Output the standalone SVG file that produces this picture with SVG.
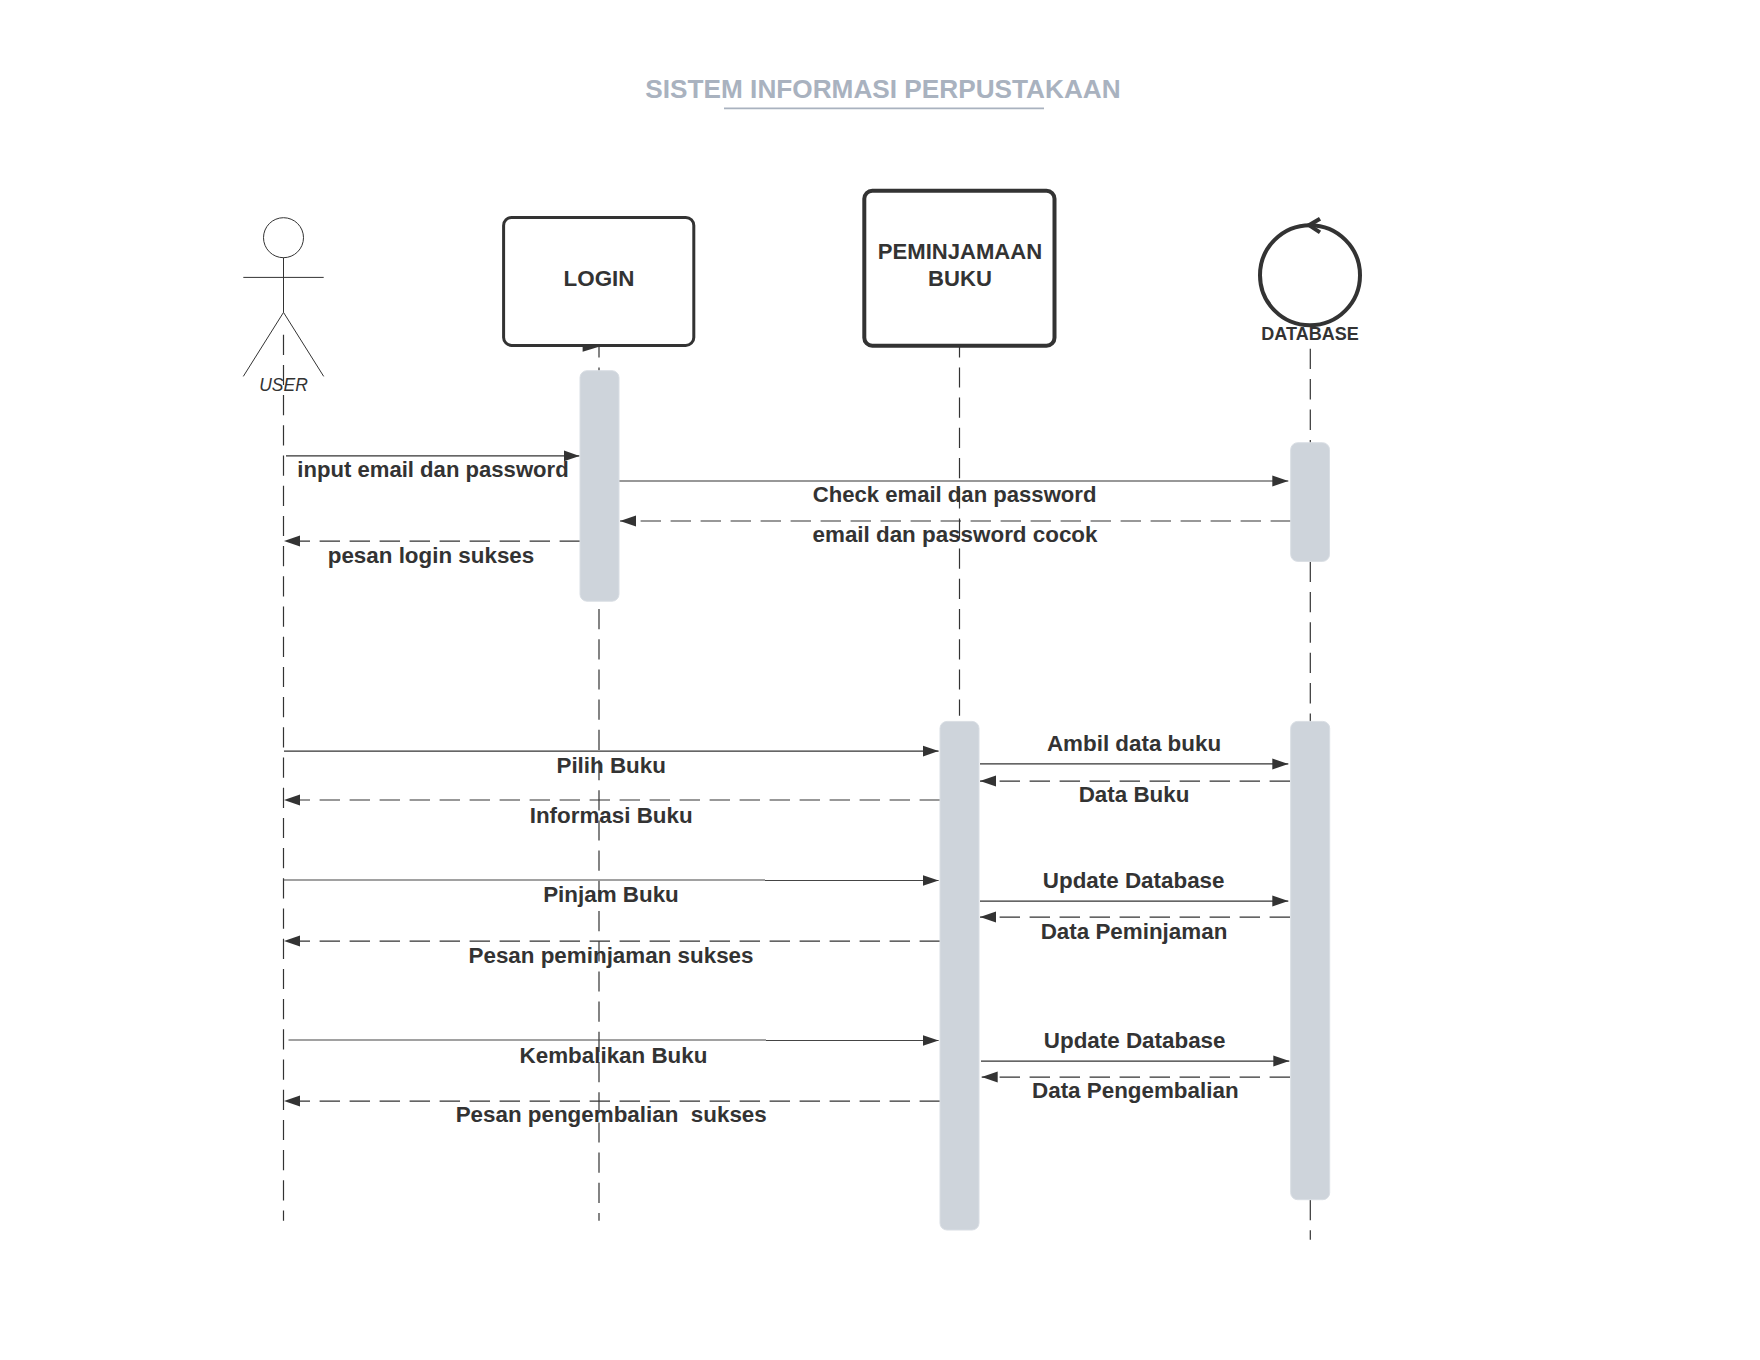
<svg xmlns="http://www.w3.org/2000/svg" width="1760" height="1360" viewBox="0 0 1760 1360">
<defs>
<marker id="arr" markerUnits="userSpaceOnUse" markerWidth="18" markerHeight="14" refX="16" refY="6.5" orient="auto"><path d="M0 1L16 6.5L0 12Z" fill="#333"/></marker>
</defs>
<style>
text{font-family:"Liberation Sans",Arial,sans-serif;fill:#333;white-space:pre}
.lbl{font-size:22.4px;font-weight:700;text-anchor:middle}
.nar{font-size:22.1px}
.life{fill:none;stroke:#333;stroke-width:1.2;stroke-dasharray:20.2 10}
.msg{fill:none;stroke:#333;stroke-width:1.2;marker-end:url(#arr)}
.ret{fill:none;stroke:#333;stroke-width:1.2;stroke-dasharray:20.4 9.6;marker-end:url(#arr)}
.act{fill:#ced4db;stroke:#d9dee4;stroke-width:1}
.box{fill:#fff;stroke:#333}
.stick{fill:none;stroke:#333;stroke-width:1}
</style>
<rect width="1760" height="1360" fill="#fff"/>
<g id="title" transform="translate(0 .7)">
<text x="883" y="97" font-size="26.2" font-weight="700" text-anchor="middle" style="fill:#a9b2bf">SISTEM INFORMASI PERPUSTAKAAN</text>
<line x1="724" y1="107.7" x2="1044" y2="107.7" stroke="#a9b2bf" stroke-width="1.6"/>
</g>
<g id="connectors" transform="translate(0 .7)">
<path class="life" d="M283.5 334V1220"/>
<path class="life" d="M599 346V1220" stroke-dashoffset="9.5"/>
<path d="M582.6 341L599 346L582.6 351Z" fill="#333"/>
<path class="life" d="M959.5 346V715" stroke-dashoffset="9.5"/>
<path class="life" d="M1310.3 348V1239" style="stroke-dasharray:20.4 10"/>

<path class="msg" d="M286 455.2H579.5"/>
<text class="lbl nar" x="433" y="476.5">input email dan password</text>
<path class="msg" d="M619 480.3H1288.3"/>
<text class="lbl nar" x="954.6" y="501.7">Check email dan password</text>
<path class="ret" d="M1291 520.3H620"/>
<text class="lbl" x="955" y="541.7">email dan password cocok</text>
<path class="ret" d="M580 540.4H284"/>
<text class="lbl" x="431" y="562">pesan login sukses</text>

<path class="msg" d="M284 750.4H938.6"/>
<text class="lbl" x="611.2" y="772.5">Pilih Buku</text>
<path class="ret" d="M940 799.3H284"/>
<text class="lbl" x="611.2" y="822">Informasi Buku</text>
<path class="msg" d="M283.5 879.3H765M765 879.8H938.6" style="stroke:#444"/>
<text class="lbl" x="611" y="901.8">Pinjam Buku</text>
<path class="ret" d="M940 940.4H284"/>
<text class="lbl" x="611" y="962.2">Pesan peminjaman sukses</text>
<path class="msg" d="M288.5 1039.3H766M766 1039.8H938.6" style="stroke:#444"/>
<text class="lbl" x="613.5" y="1062.2">Kembalikan Buku</text>
<path class="ret" d="M940 1100.4H284"/>
<text class="lbl" x="611.2" y="1121.2">Pesan pengembalian  sukses</text>

<path class="msg" d="M980 763.2H1288.3"/>
<text class="lbl" x="1134" y="750">Ambil data buku</text>
<path class="ret" d="M1290 780.4H980"/>
<text class="lbl" x="1134" y="801.8">Data Buku</text>
<path class="msg" d="M980 900.4H1288.3"/>
<text class="lbl" x="1133.7" y="887.4">Update Database</text>
<path class="ret" d="M1290 916.4H980"/>
<text class="lbl" x="1134" y="938.6">Data Peminjaman</text>
<path class="msg" d="M981 1060.4H1289.3"/>
<text class="lbl" x="1134.7" y="1047.4">Update Database</text>
<path class="ret" d="M1290 1076.4H981.7"/>
<text class="lbl" x="1135.3" y="1097.5">Data Pengembalian</text>
</g>
<g id="user" transform="translate(0 .7)">
<ellipse class="stick" cx="283.5" cy="237" rx="20" ry="20"/>
<path class="stick" d="M243.3 276.7H323.7M283.5 257V311.7M283.5 311.7L243.3 375.7M283.5 311.7L323.7 375.7"/>
<text x="283.5" y="390" font-size="17.5" font-style="italic" text-anchor="middle">USER</text>
</g>
<g id="login" transform="translate(0 .7)">
<rect class="box" x="503.6" y="216.7" width="190.2" height="128" rx="8" stroke-width="3"/>
<text class="lbl" x="599" y="285">LOGIN</text>
</g>
<g id="peminjaman" transform="translate(0 .7)">
<rect class="box" x="864.3" y="190" width="190.2" height="155" rx="8" stroke-width="4"/>
<text class="lbl nar" x="960" y="258.5">PEMINJAMAAN</text>
<text class="lbl nar" x="960" y="285.5">BUKU</text>
</g>
<g id="database" transform="translate(0 .7)">
<circle cx="1310" cy="274.5" r="50" fill="none" stroke="#333" stroke-width="4"/>
<path d="M1320 218L1309 224.5L1320 231.7" fill="none" stroke="#333" stroke-width="4"/>
<text x="1310" y="339.3" font-size="18" font-weight="700" text-anchor="middle">DATABASE</text>
</g>
<g id="activation-login" transform="translate(0 .7)"><rect class="act" x="580" y="370" width="39" height="230.5" rx="7"/></g>
<g id="activation-db-1" transform="translate(0 .7)"><rect class="act" x="1290.7" y="442" width="38.8" height="118.7" rx="7"/></g>
<g id="activation-peminjaman" transform="translate(0 .7)"><rect class="act" x="940" y="720.7" width="39" height="508.6" rx="7"/></g>
<g id="activation-db-2" transform="translate(0 .7)"><rect class="act" x="1290.7" y="720.7" width="39" height="478.3" rx="7"/></g>
</svg>
